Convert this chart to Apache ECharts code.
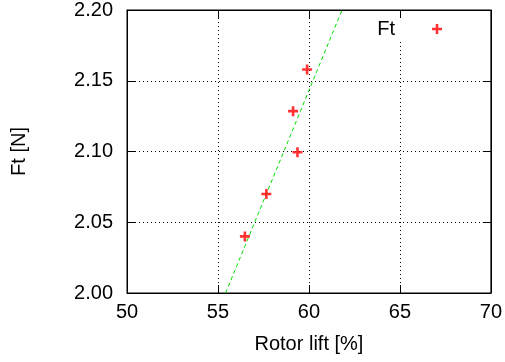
<!DOCTYPE html>
<html>
<head>
<meta charset="utf-8">
<script src="https://cdn.jsdelivr.net/npm/echarts@6/dist/echarts.min.js"></script>
<style>
  html, body { margin: 0; padding: 0; background: #fff; }
  #chart { width: 505px; height: 362px; }
</style>
</head>
<body>
<div id="chart"></div>
<script>
// Measured thrust versus rotor lift share
const rotorLift = [56.48, 57.66, 59.37, 59.13, 59.90];
const thrustFt = [2.040, 2.070, 2.0995, 2.1285, 2.158];

// Linear fit, end points across the visible range
const fitX = [55.42, 61.82];
const fitY = [2.00, 2.20];

const xTicks = [50, 55, 60, 65, 70];
const yTicks = [2.00, 2.05, 2.10, 2.15, 2.20];

const FONT = '"Liberation Sans", Arial, Helvetica, sans-serif';
const FS = 20;
const PLUS = 'path://M3.7,0h2.6v3.7h3.7v2.6h-3.7v3.7h-2.6v-3.7h-3.7v-2.6h3.7z';

const chart = echarts.init(document.getElementById('chart'), null, { renderer: 'canvas' });

const axisLineStyle = { color: '#000', width: 1 };
const gridLine = { show: true, lineStyle: { color: '#000', width: 1, type: [1, 3] } };

chart.setOption({
  animation: false,
  backgroundColor: '#fff',
  textStyle: { fontFamily: FONT },
  grid: {
    left: 127, right: 13, top: 10, bottom: 69,
    show: true, borderColor: '#000', borderWidth: 1, backgroundColor: 'transparent'
  },
  legend: {
    data: [{ name: 'Ft', icon: PLUS }],
    right: 55,
    top: 18,
    padding: [1, 8, 1, 8],
    align: 'right',
    itemWidth: 10,
    itemHeight: 10,
    backgroundColor: '#fff',
    textStyle: { fontSize: FS, color: '#000', fontFamily: FONT, padding: [0, 32, 0, 0] }
  },
  xAxis: [{
    type: 'value',
    min: xTicks[0], max: xTicks[xTicks.length - 1], interval: 5,
    name: 'Rotor lift [%]',
    nameLocation: 'middle',
    nameGap: 41,
    nameTextStyle: { fontSize: FS, color: '#000', fontFamily: FONT },
    axisLine: { show: true, lineStyle: axisLineStyle },
    axisTick: { show: true, inside: true, length: 8, lineStyle: axisLineStyle },
    axisLabel: { fontSize: FS, color: '#000', margin: 9, fontFamily: FONT,
      formatter: v => String(v) },
    splitLine: gridLine
  }, {
    type: 'value', position: 'top',
    min: xTicks[0], max: xTicks[xTicks.length - 1], interval: 5,
    axisLine: { show: true, lineStyle: axisLineStyle },
    axisTick: { show: true, inside: true, length: 8, lineStyle: axisLineStyle },
    axisLabel: { show: false },
    splitLine: { show: false }
  }],
  yAxis: [{
    type: 'value',
    min: yTicks[0], max: yTicks[yTicks.length - 1], interval: 0.05,
    name: 'Ft [N]',
    nameLocation: 'middle',
    nameGap: 98,
    nameTextStyle: { fontSize: FS, color: '#000', fontFamily: FONT },
    axisLine: { show: true, lineStyle: axisLineStyle },
    axisTick: { show: true, inside: true, length: 8, lineStyle: axisLineStyle },
    axisLabel: { fontSize: FS, color: '#000', margin: 14, fontFamily: FONT,
      formatter: v => v.toFixed(2) },
    splitLine: gridLine
  }, {
    type: 'value', position: 'right',
    min: yTicks[0], max: yTicks[yTicks.length - 1], interval: 0.05,
    axisLine: { show: true, lineStyle: axisLineStyle },
    axisTick: { show: true, inside: true, length: 8, lineStyle: axisLineStyle },
    axisLabel: { show: false },
    splitLine: { show: false }
  }],
  series: [{
    name: 'Ft',
    type: 'scatter',
    symbol: PLUS,
    symbolSize: 10,
    itemStyle: { color: '#ff0000' },
    data: rotorLift.map((x, i) => [x, thrustFt[i]]),
    z: 5
  }, {
    name: 'fit',
    type: 'line',
    showSymbol: false,
    clip: true,
    lineStyle: { color: '#00e000', width: 1, type: [4, 3] },
    data: fitX.map((x, i) => [x, fitY[i]]),
    z: 4
  }]
});
</script>
</body>
</html>
